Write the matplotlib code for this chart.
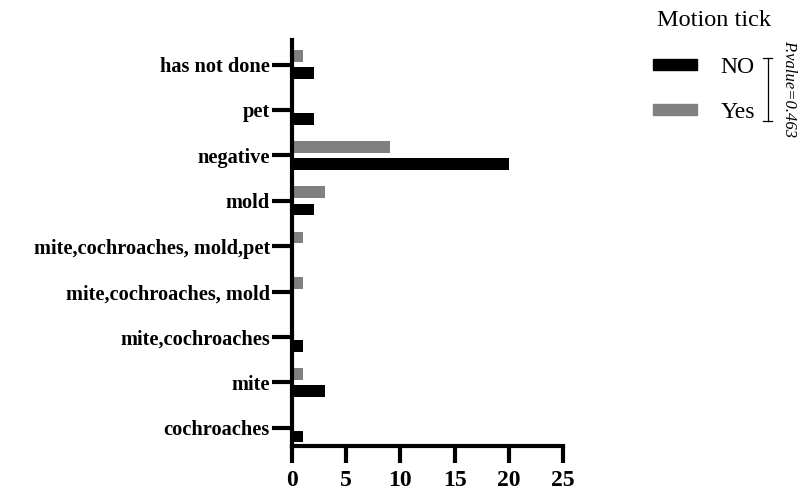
import matplotlib.pyplot as plt
import numpy as np
from matplotlib.lines import Line2D
from matplotlib.patches import Patch

plt.rcParams['font.family'] = ['Liberation Serif', 'DejaVu Serif']

# data (bottom -> top)
categories = ['cochroaches', 'mite', 'mite,cochroaches', 'mite,cochroaches, mold',
              'mite,cochroaches, mold,pet', 'mold', 'negative', 'pet', 'has not done']
no_vals = [1, 3, 1, 0, 0, 2, 20, 2, 2]
yes_vals = [0, 1, 0, 1, 1, 3, 9, 0, 1]
xticks = [0, 5, 10, 15, 20, 25]

fig = plt.figure(figsize=(7.98, 4.92), dpi=100)
ax = fig.add_axes([0.366, 0.0935, 0.3395, 0.826])

y = np.arange(len(categories))
h = 0.26
ax.barh(y - 0.19, no_vals, height=h, color='black', label='NO')
ax.barh(y + 0.19, yes_vals, height=h, color='#808080', label='Yes')

ax.set_xlim(0, 25)
ax.set_ylim(-0.4, 8.55)
ax.set_xticks(xticks)
ax.set_yticks(y)
ax.set_yticklabels(categories)
for s in ['top', 'right']:
    ax.spines[s].set_visible(False)
for s in ['left', 'bottom']:
    ax.spines[s].set_linewidth(3)
ax.tick_params(axis='x', width=3, length=12, direction='out', pad=5)
ax.tick_params(axis='y', width=3, length=14.5, direction='out', pad=1.5)
for lab in ax.get_xticklabels():
    lab.set_fontweight('bold')
    lab.set_fontsize(17)
for lab in ax.get_yticklabels():
    lab.set_fontweight('bold')
    lab.set_fontsize(14.7)

# legend + title
fig.text(0.823, 0.959, 'Motion tick', fontsize=17.5, ha='left', va='center')
handles = [Patch(color='black'), Patch(color='#808080')]
leg = fig.legend(handles, ['NO', 'Yes'], loc='upper left', bbox_to_anchor=(0.818, 0.884),
                 frameon=False, fontsize=17,
                 handlelength=1.86, handleheight=0.35, labelspacing=1.0,
                 handletextpad=1.0, borderpad=0, borderaxespad=0)

# p-value bracket
xb = 0.962
fig.add_artist(Line2D([xb, xb], [0.882, 0.755], color='black', lw=0.9))
fig.add_artist(Line2D([xb - 0.006, xb + 0.006], [0.882, 0.882], color='black', lw=0.9))
fig.add_artist(Line2D([xb - 0.006, xb + 0.006], [0.755, 0.755], color='black', lw=0.9))
fig.text(0.989, 0.821, 'P.value=0.463', rotation=-90, style='italic', fontsize=12,
         ha='center', va='center')

plt.savefig('out.png')
